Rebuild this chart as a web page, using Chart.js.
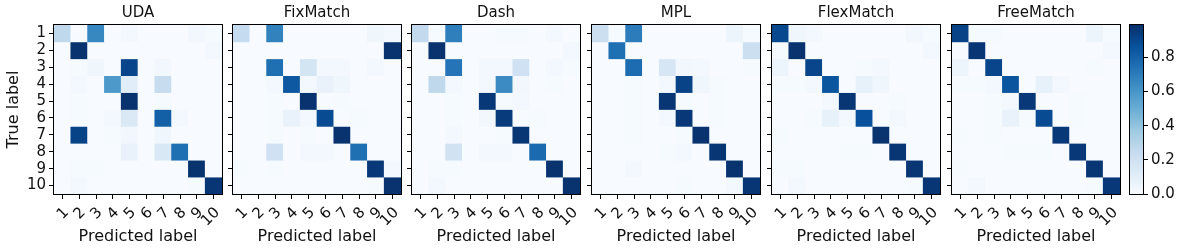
<!DOCTYPE html>
<html>
<head>
<meta charset="utf-8">
<script src="https://cdn.jsdelivr.net/npm/chart.js@4.4.0/dist/chart.umd.min.js"></script>
<style>
  body { margin: 0; background: #fff; }
  #wrap { position: relative; width: 1181px; height: 252px; overflow: hidden; }
  #wrap canvas { position: absolute; top: 0; }
</style>
</head>
<body>
<div id="wrap"></div>
<script>
const classLabels = ["1", "2", "3", "4", "5", "6", "7", "8", "9", "10"];
const methods = ["UDA", "FixMatch", "Dash", "MPL", "FlexMatch", "FreeMatch"];
const colorbarTicks = [0, 0.2, 0.4, 0.6, 0.8];
const vmax = 0.99;

// rows = true label, columns = predicted label
const uda = [
    [0.27, 0.00, 0.66, 0.00, 0.02, 0.00, 0.00, 0.00, 0.03, 0.01],
    [0.00, 0.98, 0.00, 0.00, 0.00, 0.00, 0.00, 0.00, 0.00, 0.02],
    [0.00, 0.01, 0.04, 0.00, 0.91, 0.00, 0.03, 0.00, 0.00, 0.00],
    [0.00, 0.02, 0.00, 0.59, 0.11, 0.00, 0.24, 0.00, 0.00, 0.00],
    [0.00, 0.01, 0.00, 0.00, 0.98, 0.00, 0.01, 0.00, 0.00, 0.00],
    [0.00, 0.01, 0.00, 0.02, 0.14, 0.00, 0.81, 0.02, 0.00, 0.00],
    [0.00, 0.92, 0.00, 0.01, 0.03, 0.00, 0.04, 0.00, 0.00, 0.00],
    [0.00, 0.00, 0.00, 0.00, 0.07, 0.00, 0.15, 0.75, 0.00, 0.00],
    [0.00, 0.01, 0.01, 0.00, 0.00, 0.00, 0.00, 0.00, 0.98, 0.00],
    [0.00, 0.02, 0.00, 0.00, 0.00, 0.00, 0.00, 0.00, 0.01, 0.97]
];
const fixmatch = [
    [0.25, 0.00, 0.68, 0.00, 0.00, 0.00, 0.00, 0.00, 0.04, 0.02],
    [0.00, 0.00, 0.00, 0.00, 0.00, 0.00, 0.00, 0.00, 0.00, 0.98],
    [0.00, 0.00, 0.75, 0.00, 0.18, 0.02, 0.02, 0.00, 0.02, 0.00],
    [0.00, 0.00, 0.02, 0.84, 0.02, 0.07, 0.04, 0.00, 0.00, 0.00],
    [0.00, 0.00, 0.01, 0.00, 0.98, 0.00, 0.01, 0.00, 0.00, 0.00],
    [0.00, 0.00, 0.01, 0.07, 0.02, 0.89, 0.00, 0.01, 0.00, 0.00],
    [0.00, 0.00, 0.01, 0.00, 0.01, 0.00, 0.98, 0.00, 0.00, 0.00],
    [0.00, 0.00, 0.20, 0.00, 0.02, 0.02, 0.00, 0.75, 0.00, 0.00],
    [0.01, 0.00, 0.01, 0.00, 0.00, 0.00, 0.00, 0.00, 0.96, 0.02],
    [0.00, 0.00, 0.00, 0.00, 0.00, 0.00, 0.00, 0.00, 0.01, 0.98]
];
const dash = [
    [0.26, 0.01, 0.69, 0.00, 0.00, 0.01, 0.01, 0.00, 0.02, 0.00],
    [0.00, 0.98, 0.00, 0.00, 0.00, 0.00, 0.00, 0.00, 0.00, 0.02],
    [0.00, 0.00, 0.73, 0.00, 0.02, 0.02, 0.20, 0.00, 0.02, 0.01],
    [0.00, 0.27, 0.02, 0.00, 0.02, 0.64, 0.03, 0.00, 0.01, 0.00],
    [0.00, 0.00, 0.01, 0.00, 0.96, 0.01, 0.02, 0.00, 0.00, 0.00],
    [0.00, 0.00, 0.01, 0.00, 0.03, 0.95, 0.00, 0.01, 0.00, 0.00],
    [0.00, 0.00, 0.02, 0.00, 0.00, 0.01, 0.97, 0.00, 0.00, 0.00],
    [0.00, 0.00, 0.19, 0.00, 0.02, 0.02, 0.00, 0.77, 0.00, 0.00],
    [0.00, 0.01, 0.01, 0.00, 0.00, 0.00, 0.00, 0.00, 0.98, 0.00],
    [0.00, 0.02, 0.00, 0.00, 0.00, 0.00, 0.00, 0.00, 0.00, 0.98]
];
const mpl = [
    [0.22, 0.01, 0.70, 0.00, 0.00, 0.00, 0.00, 0.00, 0.05, 0.01],
    [0.00, 0.75, 0.00, 0.00, 0.00, 0.00, 0.00, 0.00, 0.00, 0.22],
    [0.00, 0.00, 0.76, 0.00, 0.16, 0.03, 0.02, 0.00, 0.00, 0.01],
    [0.00, 0.00, 0.01, 0.00, 0.02, 0.92, 0.04, 0.01, 0.00, 0.00],
    [0.00, 0.00, 0.01, 0.00, 0.97, 0.01, 0.00, 0.01, 0.00, 0.00],
    [0.00, 0.00, 0.01, 0.00, 0.02, 0.96, 0.00, 0.01, 0.00, 0.00],
    [0.00, 0.00, 0.01, 0.00, 0.00, 0.01, 0.98, 0.00, 0.00, 0.00],
    [0.00, 0.00, 0.00, 0.00, 0.01, 0.02, 0.00, 0.97, 0.00, 0.00],
    [0.00, 0.00, 0.02, 0.00, 0.00, 0.00, 0.00, 0.00, 0.98, 0.00],
    [0.00, 0.00, 0.00, 0.00, 0.00, 0.01, 0.00, 0.00, 0.02, 0.97]
];
const flexmatch = [
    [0.90, 0.04, 0.02, 0.00, 0.00, 0.00, 0.00, 0.00, 0.03, 0.01],
    [0.01, 0.98, 0.00, 0.00, 0.00, 0.00, 0.00, 0.00, 0.00, 0.02],
    [0.05, 0.00, 0.91, 0.00, 0.00, 0.01, 0.02, 0.00, 0.00, 0.00],
    [0.01, 0.01, 0.02, 0.85, 0.00, 0.08, 0.04, 0.00, 0.00, 0.00],
    [0.00, 0.00, 0.00, 0.02, 0.97, 0.00, 0.00, 0.01, 0.00, 0.00],
    [0.00, 0.00, 0.01, 0.08, 0.02, 0.87, 0.00, 0.02, 0.00, 0.00],
    [0.01, 0.00, 0.00, 0.00, 0.00, 0.00, 0.98, 0.00, 0.00, 0.00],
    [0.00, 0.00, 0.00, 0.00, 0.01, 0.01, 0.00, 0.97, 0.00, 0.00],
    [0.01, 0.01, 0.00, 0.00, 0.00, 0.00, 0.00, 0.00, 0.97, 0.00],
    [0.00, 0.02, 0.00, 0.00, 0.00, 0.00, 0.00, 0.00, 0.01, 0.97]
];
const freematch = [
    [0.92, 0.01, 0.01, 0.00, 0.00, 0.00, 0.00, 0.00, 0.05, 0.01],
    [0.00, 0.97, 0.00, 0.00, 0.00, 0.00, 0.00, 0.00, 0.00, 0.02],
    [0.05, 0.00, 0.91, 0.00, 0.00, 0.00, 0.00, 0.00, 0.01, 0.00],
    [0.01, 0.01, 0.02, 0.85, 0.00, 0.08, 0.02, 0.00, 0.00, 0.00],
    [0.00, 0.00, 0.01, 0.02, 0.96, 0.00, 0.00, 0.01, 0.00, 0.00],
    [0.00, 0.00, 0.01, 0.07, 0.01, 0.89, 0.00, 0.01, 0.00, 0.00],
    [0.01, 0.00, 0.01, 0.00, 0.00, 0.00, 0.96, 0.00, 0.00, 0.00],
    [0.00, 0.00, 0.00, 0.01, 0.01, 0.01, 0.00, 0.96, 0.00, 0.00],
    [0.01, 0.00, 0.00, 0.00, 0.00, 0.00, 0.00, 0.00, 0.97, 0.00],
    [0.00, 0.02, 0.00, 0.00, 0.00, 0.00, 0.00, 0.00, 0.01, 0.96]
];
const matrices = [uda, fixmatch, dash, mpl, flexmatch, freematch];

// matplotlib "Blues"
const blues = ["#f7fbff", "#deebf7", "#c6dbef", "#9ecae1", "#6baed6", "#4292c6", "#2171b5", "#08519c", "#08306b"];

function hexToRgb(h) {
    return [1, 3, 5].map(i => parseInt(h.slice(i, i + 2), 16));
}

function bluesColor(v) {
    let t = Math.max(0, Math.min(1, v / vmax)) * (blues.length - 1);
    const i = Math.min(Math.floor(t), blues.length - 2);
    const f = t - i;
    const a = hexToRgb(blues[i]), b = hexToRgb(blues[i + 1]);
    const c = a.map((x, k) => Math.round(x + (b[k] - x) * f));
    return `rgb(${c[0]}, ${c[1]}, ${c[2]})`;
}

// layout of the figure (pixels)
const plotLeft = [54, 233, 412, 592, 772, 952];
const plotTop = 25, plotW = 168, plotH = 169;
const axisW = 54;
const canvasW = 228, canvasH = 252;
const bottomH = canvasH - plotTop - plotH;

const textColor = "#111";
const fontFamily = "'DejaVu Sans', sans-serif";
Chart.defaults.font.family = fontFamily;
Chart.defaults.color = textColor;

// black box around the plot area, like matplotlib spines
const framePlugin = {
    id: "frame",
    afterDraw(chart) {
        const a = chart.chartArea;
        const c = chart.ctx;
        c.save();
        c.strokeStyle = "#000";
        c.lineWidth = 1;
        c.strokeRect(Math.round(a.left) - 0.5, Math.round(a.top) - 0.5,
            Math.round(a.right - a.left) + 1, Math.round(a.bottom - a.top) + 1);
        c.restore();
    }
};

function noPadding(scale) {
    scale.paddingLeft = 0;
    scale.paddingRight = 0;
    scale.paddingTop = 0;
    scale.paddingBottom = 0;
}

const wrap = document.getElementById("wrap");

function makeCanvas(left, width) {
    const cv = document.createElement("canvas");
    cv.width = width;
    cv.height = canvasH;
    cv.style.left = left + "px";
    cv.style.width = width + "px";
    cv.style.height = canvasH + "px";
    wrap.appendChild(cv);
    return cv;
}

methods.forEach((name, k) => {
    const matrix = matrices[k];
    const datasets = matrix.map((row, r) => ({
        label: "True " + classLabels[r],
        data: row.map(() => [r + 0.5, r + 1.5]),
        backgroundColor: row.map(v => bluesColor(v)),
        borderWidth: 0,
        categoryPercentage: 1,
        barPercentage: 1
    }));

    const cv = makeCanvas(plotLeft[k] - axisW, canvasW);
    new Chart(cv, {
        type: "bar",
        data: { labels: classLabels, datasets: datasets },
        options: {
            responsive: false,
            animation: false,
            events: [],
            layout: { padding: { left: 0, right: canvasW - axisW - plotW, top: 0, bottom: 0 } },
            plugins: {
                legend: { display: false },
                tooltip: { enabled: false },
                title: {
                    display: true,
                    text: name,
                    fullSize: false,
                    color: textColor,
                    font: { size: 15, weight: "normal" },
                    padding: { top: 4, bottom: 3 }
                }
            },
            scales: {
                x: {
                    stacked: true,
                    grid: { offset: false, drawOnChartArea: false, tickLength: 5, tickColor: "#000" },
                    border: { display: false },
                    ticks: {
                        minRotation: 45,
                        maxRotation: 45,
                        autoSkip: false,
                        padding: 5,
                        labelOffset: 4,
                        color: textColor,
                        font: { size: 15 }
                    },
                    title: {
                        display: true,
                        text: "Predicted label",
                        color: textColor,
                        font: { size: 16 },
                        padding: { top: 0, bottom: 6 }
                    },
                    afterFit(scale) {
                        scale.height = bottomH;
                        noPadding(scale);
                    }
                },
                y: {
                    type: "linear",
                    reverse: true,
                    min: 0.5,
                    max: classLabels.length + 0.5,
                    grid: { drawOnChartArea: false, tickLength: 5, tickColor: "#000" },
                    border: { display: false },
                    afterBuildTicks(scale) {
                        scale.ticks = classLabels.map((_, i) => ({ value: i + 1 }));
                    },
                    ticks: {
                        display: k === 0,
                        autoSkip: false,
                        padding: 3,
                        color: textColor,
                        font: { size: 15 },
                        callback: v => classLabels[v - 1]
                    },
                    title: {
                        display: k === 0,
                        text: "True label",
                        color: textColor,
                        font: { size: 16 },
                        padding: { top: 4, bottom: 0 }
                    },
                    afterFit(scale) {
                        scale.width = axisW;
                        noPadding(scale);
                    }
                }
            }
        },
        plugins: [framePlugin]
    });
});

// colorbar
const cbLeft = 1120, cbPad = 10, cbW = 13;
const cbCanvas = makeCanvas(cbLeft, 1181 - cbLeft);
new Chart(cbCanvas, {
    type: "bar",
    data: {
        labels: [""],
        datasets: [{
            data: [[0, vmax]],
            borderWidth: 0,
            categoryPercentage: 1,
            barPercentage: 1,
            backgroundColor(ctx) {
                const chart = ctx.chart;
                if (!chart.chartArea) return blues[0];
                const y = chart.scales.y;
                const g = chart.ctx.createLinearGradient(0, y.getPixelForValue(0), 0, y.getPixelForValue(vmax));
                blues.forEach((c, i) => g.addColorStop(i / (blues.length - 1), c));
                return g;
            }
        }]
    },
    options: {
        responsive: false,
        animation: false,
        events: [],
        layout: { padding: { left: cbPad, right: 0, top: plotTop, bottom: bottomH } },
        plugins: { legend: { display: false }, tooltip: { enabled: false } },
        scales: {
            x: { display: false },
            y: {
                position: "right",
                min: 0,
                max: vmax,
                grid: { drawOnChartArea: false, tickLength: 5, tickColor: "#000" },
                border: { display: false },
                afterBuildTicks(scale) {
                    scale.ticks = colorbarTicks.map(v => ({ value: v }));
                },
                ticks: { autoSkip: false, padding: 3, color: textColor, font: { size: 15 }, callback: v => v.toFixed(1) },
                afterFit(scale) {
                    scale.width = 1181 - cbLeft - cbPad - cbW;
                    noPadding(scale);
                }
            }
        }
    },
    plugins: [framePlugin]
});
</script>
</body>
</html>
